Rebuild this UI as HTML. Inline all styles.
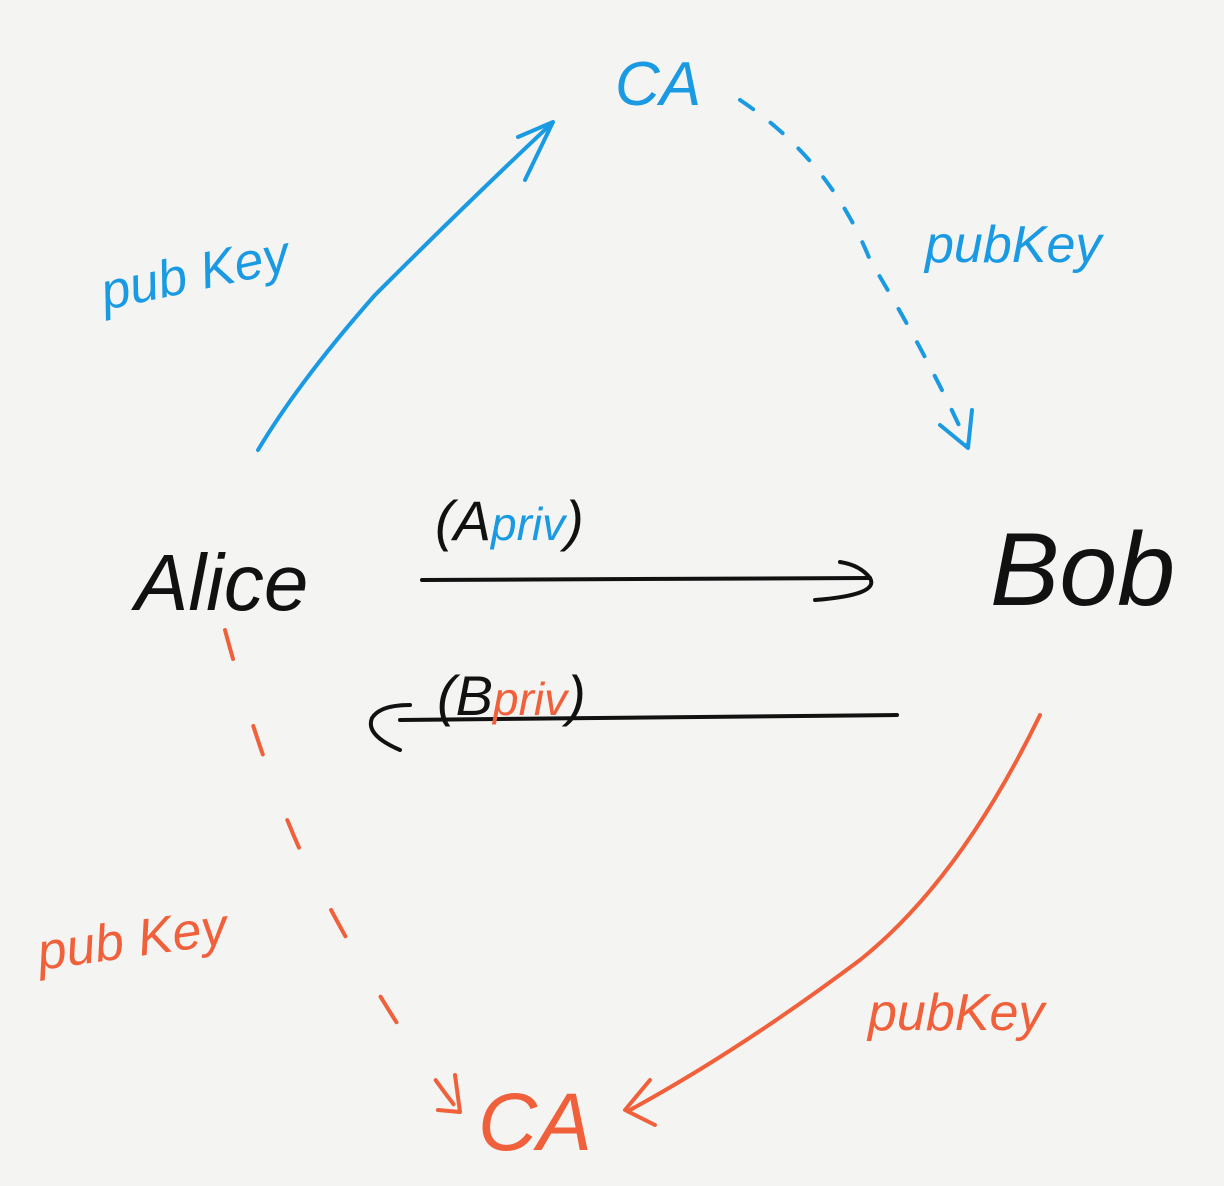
<!DOCTYPE html>
<html><head><meta charset="utf-8"><style>
html,body{margin:0;padding:0;background:#f4f4f3;}
svg{display:block}
text{font-family:"Liberation Sans",sans-serif;font-style:italic;}
</style></head><body>
<svg width="1224" height="1186" viewBox="0 0 1224 1186" xmlns="http://www.w3.org/2000/svg">
<rect width="1224" height="1186" fill="#f4f4f3"/>
<g fill="none" stroke-linecap="round" stroke-linejoin="round" stroke-width="4">
<path d="M258,450 Q300,380 375,295 Q470,200 550,125" stroke="#1a9ae2"/>
<path d="M518,137 L553,122 L525,180" stroke="#1a9ae2"/>
<path d="M740,100 Q830,160 870,260 Q930,360 968,445" stroke="#1a9ae2" stroke-dasharray="16,22"/>
<path d="M940,425 L968,448 L972,410" stroke="#1a9ae2"/>
<path d="M422,580 L870,578" stroke="#111"/>
<path d="M815,600 Q880,595 870,578 Q860,565 840,562" stroke="#111"/>
<path d="M897,715 L400,720" stroke="#111"/>
<path d="M400,750 Q365,735 372,718 Q380,705 410,705" stroke="#111"/>
<path d="M225,630 Q260,760 300,850 Q380,1010 458,1110" stroke="#f0603a" stroke-dasharray="30,70"/>
<path d="M438,1110 L460,1112 L455,1075" stroke="#f0603a"/>
<path d="M1040,715 Q960,880 860,960 Q740,1050 630,1110" stroke="#f0603a"/>
<path d="M650,1080 L625,1110 L655,1125" stroke="#f0603a"/>
</g>
<text x="615" y="105" font-size="62" fill="#1a9ae2">CA</text>
<text x="105" y="310" font-size="52" fill="#1a9ae2" transform="rotate(-12 105 310)">pub Key</text>
<text x="925" y="262" font-size="52" fill="#1a9ae2">pubKey</text>
<text x="135" y="610" font-size="80" fill="#111">Alice</text>
<text x="990" y="605" font-size="104" fill="#111">Bob</text>
<text x="435" y="540" font-size="56" fill="#111">(A<tspan fill="#1a9ae2" font-size="46">priv</tspan>)</text>
<text x="437" y="715" font-size="56" fill="#111">(B<tspan fill="#f0603a" font-size="46">priv</tspan>)</text>
<text x="40" y="970" font-size="52" fill="#f0603a" transform="rotate(-8 40 970)">pub Key</text>
<text x="868" y="1030" font-size="52" fill="#f0603a">pubKey</text>
<text x="478" y="1150" font-size="82" fill="#f0603a">CA</text>
</svg>
</body></html>
